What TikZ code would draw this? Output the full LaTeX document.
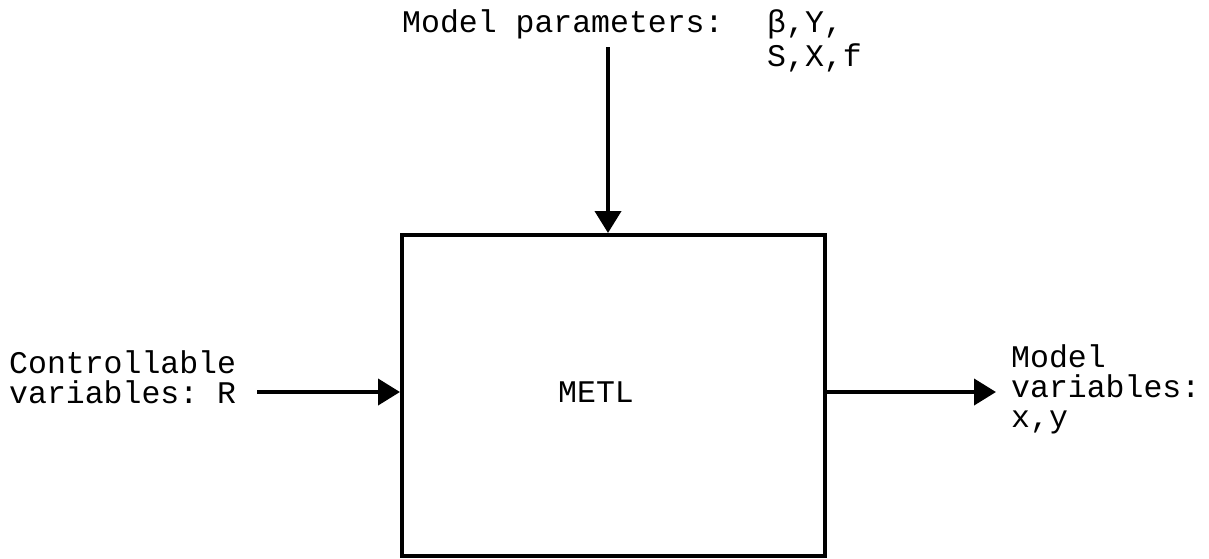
\documentclass[tikz,border=0pt]{standalone}
\usepackage{fontspec}
\setmonofont{Liberation Mono}
\usetikzlibrary{arrows.meta}
\begin{document}
\begin{tikzpicture}[x=1pt,y=-1pt,
  lbl/.style={font=\ttfamily\fontsize{31.5}{31.5}\selectfont, inner sep=0pt, anchor=base west},
  conn/.style={line width=4pt, -{Triangle[length=22pt,width=26pt]}},
  blk/.style={draw, line width=4pt, minimum width=423pt, minimum height=321pt, inner sep=0pt}]
\useasboundingbox (0,0) rectangle (1209,558);
\node[blk] (box) at (613.5,395.5) {};
\node[font=\ttfamily\fontsize{31.5}{31.5}\selectfont, inner sep=0pt] (metl) at (596,392) {METL};
\node[lbl] (mp) at (402,32) {Model parameters:};
\node[lbl] (p1) at (767,32) {β,Y,};
\node[lbl] (p2) at (767,66) {S,X,f};
\coordinate (ptop) at (608,47);
\node[lbl] (c1) at (9,373) {Controllable};
\node[lbl] (c2) at (9,403) {variables: R};
\coordinate (lstart) at (257,392);
\node[lbl] (m1) at (1011,367) {Model};
\node[lbl] (m2) at (1011,397) {variables:};
\node[lbl] (m3) at (1011,427) {x,y};
\coordinate (rend) at (996,392);
\draw[conn] (ptop) -- (ptop |- box.north);
\draw[conn] (lstart) -- (lstart -| box.west);
\draw[conn] (lstart -| box.east) -- (rend);
\end{tikzpicture}
\end{document}
